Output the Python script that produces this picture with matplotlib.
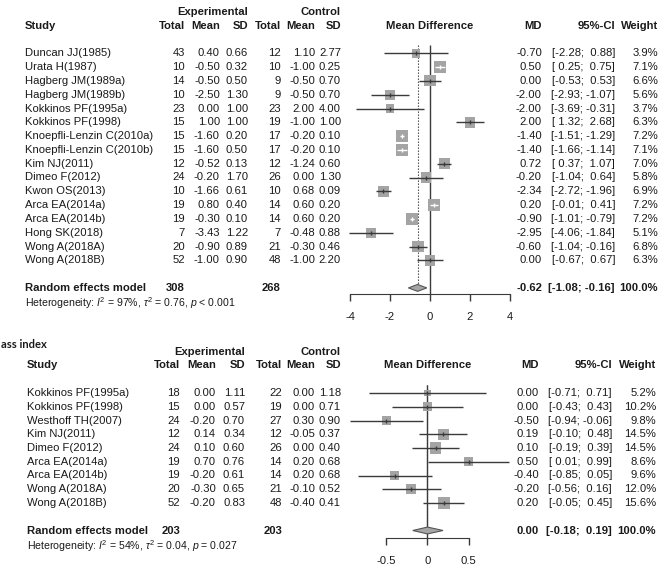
import numpy as np
import matplotlib
matplotlib.use("Agg")
import matplotlib.pyplot as plt
from matplotlib import transforms

plt.rcParams['font.family'] = ['Liberation Sans', 'DejaVu Sans']
plt.rcParams['axes.unicode_minus'] = False
plt.rcParams['mathtext.fontset'] = 'custom'
plt.rcParams['mathtext.rm'] = 'Liberation Sans'
plt.rcParams['mathtext.it'] = 'Liberation Sans:italic'
plt.rcParams['mathtext.bf'] = 'Liberation Sans:bold'

W, H = 666, 568
TXT, LINE, SQ = "#1a1a1a", "#3a3a3a", "#a4a4a4"
FS = 8.1

# ---- panel a ----
studies_a = ["Duncan JJ(1985)", "Urata H(1987)", "Hagberg JM(1989a)", "Hagberg JM(1989b)",
             "Kokkinos PF(1995a)", "Kokkinos PF(1998)", "Knoepfli-Lenzin C(2010a)",
             "Knoepfli-Lenzin C(2010b)", "Kim NJ(2011)", "Dimeo F(2012)", "Kwon OS(2013)",
             "Arca EA(2014a)", "Arca EA(2014b)", "Hong SK(2018)", "Wong A(2018A)", "Wong A(2018B)"]
exp_n_a = [43, 10, 14, 10, 23, 15, 15, 15, 12, 24, 10, 19, 19, 7, 20, 52]
exp_mean_a = [0.40, -0.50, -0.50, -2.50, 0.00, 1.00, -1.60, -1.60, -0.52, -0.20, -1.66, 0.80, -0.30, -3.43, -0.90, -1.00]
exp_sd_a = [0.66, 0.32, 0.50, 1.30, 1.00, 1.00, 0.20, 0.50, 0.13, 1.70, 0.61, 0.40, 0.10, 1.22, 0.89, 0.90]
ctl_n_a = [12, 10, 9, 9, 23, 19, 17, 17, 12, 26, 10, 14, 14, 7, 21, 48]
ctl_mean_a = [1.10, -1.00, -0.50, -0.50, 2.00, -1.00, -0.20, -0.20, -1.24, 0.00, 0.68, 0.60, 0.60, -0.48, -0.30, -1.00]
ctl_sd_a = [2.77, 0.25, 0.70, 0.70, 4.00, 1.00, 0.10, 0.10, 0.60, 1.30, 0.09, 0.20, 0.20, 0.88, 0.46, 2.20]
md_a = [-0.70, 0.50, 0.00, -2.00, -2.00, 2.00, -1.40, -1.40, 0.72, -0.20, -2.34, 0.20, -0.90, -2.95, -0.60, 0.00]
lo_a = [-2.28, 0.25, -0.53, -2.93, -3.69, 1.32, -1.51, -1.66, 0.37, -1.04, -2.72, -0.01, -1.01, -4.06, -1.04, -0.67]
hi_a = [0.88, 0.75, 0.53, -1.07, -0.31, 2.68, -1.29, -1.14, 1.07, 0.64, -1.96, 0.41, -0.79, -1.84, -0.16, 0.67]
weight_a = [3.9, 7.1, 6.6, 5.6, 3.7, 6.3, 7.2, 7.1, 7.0, 5.8, 6.9, 7.2, 7.2, 5.1, 6.8, 6.3]
pooled_a = [-0.62, -1.08, -0.16, 100.0]
totals_a = [308, 268]
het_a = r"Heterogeneity: $I^2$ = 97%, $\tau^2$ = 0.76, $p$ < 0.001"
ticks_a = [-4, -2, 0, 2, 4]
ticklabels_a = ["-4", "-2", "0", "2", "4"]

# ---- panel b ----
studies_b = ["Kokkinos PF(1995a)", "Kokkinos PF(1998)", "Westhoff TH(2007)", "Kim NJ(2011)",
             "Dimeo F(2012)", "Arca EA(2014a)", "Arca EA(2014b)", "Wong A(2018A)", "Wong A(2018B)"]
exp_n_b = [18, 15, 24, 12, 24, 19, 19, 20, 52]
exp_mean_b = [0.00, 0.00, -0.20, 0.14, 0.10, 0.70, -0.20, -0.30, -0.20]
exp_sd_b = [1.11, 0.57, 0.70, 0.34, 0.60, 0.76, 0.61, 0.65, 0.83]
ctl_n_b = [22, 19, 27, 12, 26, 14, 14, 21, 48]
ctl_mean_b = [0.00, 0.00, 0.30, -0.05, 0.00, 0.20, 0.20, -0.10, -0.40]
ctl_sd_b = [1.18, 0.71, 0.90, 0.37, 0.40, 0.68, 0.68, 0.52, 0.41]
md_b = [0.00, 0.00, -0.50, 0.19, 0.10, 0.50, -0.40, -0.20, 0.20]
lo_b = [-0.71, -0.43, -0.94, -0.10, -0.19, 0.01, -0.85, -0.56, -0.05]
hi_b = [0.71, 0.43, -0.06, 0.48, 0.39, 0.99, 0.05, 0.16, 0.45]
weight_b = [5.2, 10.2, 9.8, 14.5, 14.5, 8.6, 9.6, 12.0, 15.6]
pooled_b = [0.00, -0.18, 0.19, 100.0]
totals_b = [203, 203]
het_b = r"Heterogeneity: $I^2$ = 54%, $\tau^2$ = 0.04, $p$ = 0.027"
ticks_b = [-0.5, 0, 0.5]
ticklabels_b = ["-0.5", "0", "0.5"]


def ci_text(lo, hi, wl, wh):
    # R-style padding: "[-2.28;  0.88]"
    a, b = f"{lo:.2f}", f"{hi:.2f}"
    return "[" + " " * (wl - len(a)) + a + "; " + " " * (wh - len(b)) + b + "]"


def panel(fig, box, row0, rowh, xlim, axis_row, zero_top, cols, studies, en, em, es, cn, cm, cs,
          md, lo, hi, wt, pooled, totals, het, ticks, ticklabels):
    x0, y0, x1, y1 = box
    ax = fig.add_axes([x0 / W, 1 - y1 / H, (x1 - x0) / W, (y1 - y0) / H])
    ax.set_xlim(xlim)
    ax.set_ylim(1 + (y1 - row0) / rowh, 1 + (y0 - row0) / rowh)
    ax.patch.set_visible(False)
    tr = transforms.blended_transform_factory(fig.transFigure, ax.transData)

    def put(xpx, row, s, ha="right", bold=False, size=FS):
        ax.text(xpx / W, row, s, transform=tr, ha=ha, va="center", fontsize=size,
                fontweight="bold" if bold else "normal", color=TXT)

    n = len(studies)
    rows = np.arange(1, n + 1)
    prow = n + 2
    md, lo, hi, wt = map(np.asarray, (md, lo, hi, wt))
    wl = max(len(f"{v:.2f}") for v in list(lo) + [pooled[1]])
    wh = max(len(f"{v:.2f}") for v in list(hi) + [pooled[2]])

    # headers
    put(cols["s1"], -2, "Experimental", bold=True)
    put(cols["s2"], -2, "Control", bold=True)
    put(cols["study"], -1, "Study", ha="left", bold=True)
    for key, lab in [("t1", "Total"), ("m1", "Mean"), ("s1", "SD"), ("t2", "Total"),
                     ("m2", "Mean"), ("s2", "SD"), ("md", "MD"), ("ci", "95%-CI"),
                     ("wt", "Weight")]:
        put(cols[key], -1, lab, bold=True)
    ax.text(0, -1, "Mean Difference", ha="center", va="center", fontsize=FS,
            fontweight="bold", color=TXT)

    # study rows
    for i, r in enumerate(rows):
        put(cols["study"], r, studies[i], ha="left")
        put(cols["t1"], r, f"{en[i]}")
        put(cols["m1"], r, f"{em[i]:.2f}")
        put(cols["s1"], r, f"{es[i]:.2f}")
        put(cols["t2"], r, f"{cn[i]}")
        put(cols["m2"], r, f"{cm[i]:.2f}")
        put(cols["s2"], r, f"{cs[i]:.2f}")
        put(cols["md"], r, f"{md[i]:.2f}")
        put(cols["ci"], r, ci_text(lo[i], hi[i], wl, wh))
        put(cols["wt"], r, f"{wt[i]:.1f}%")

    # pooled row
    put(cols["study"], prow, "Random effects model", ha="left", bold=True)
    put(cols["t1"], prow, f"{totals[0]}", bold=True)
    put(cols["t2"], prow, f"{totals[1]}", bold=True)
    put(cols["md"], prow, f"{pooled[0]:.2f}", bold=True)
    put(cols["ci"], prow, ci_text(pooled[1], pooled[2], wl, wh), bold=True)
    put(cols["wt"], prow, f"{pooled[3]:.1f}%", bold=True)
    put(cols["study"], prow + 1.1, het, ha="left", size=7.6)

    # reference lines
    ax.vlines(0, zero_top, axis_row, color=LINE, lw=1, zorder=1)
    ax.vlines(pooled[0], zero_top, prow - 0.25, color=LINE, lw=0.8,
              linestyles=(0, (1.2, 1.5)), zorder=1)

    # squares + CIs
    ppu = (x1 - x0) / (xlim[1] - xlim[0])
    side = 11.5 * np.sqrt(wt / wt.max())
    ax.scatter(md, rows, s=(side * 0.72) ** 2, marker="s", c=SQ, linewidths=0, zorder=2)
    for i, r in enumerate(rows):
        c = "white" if (hi[i] - lo[i]) * ppu < side[i] else LINE
        ax.hlines(r, lo[i], hi[i], color=c, lw=1, zorder=3)
        ax.plot(md[i], r, marker="|", ms=3, mew=1, color=c, zorder=4)

    # diamond
    ax.fill([pooled[1], pooled[0], pooled[2], pooled[0]],
            [prow, prow - 0.25, prow, prow + 0.25], fc="#a5a5a5", ec="#555555", lw=0.8, zorder=3)

    for s in ("top", "right", "left"):
        ax.spines[s].set_visible(False)
    ax.spines["bottom"].set_position(("data", axis_row))
    ax.spines["bottom"].set_bounds(ticks[0], ticks[-1])
    ax.spines["bottom"].set_color(LINE)
    ax.set_xticks(ticks)
    ax.set_xticklabels(ticklabels)
    ax.set_yticks([])
    ax.tick_params(axis="x", direction="out", length=5, width=1, color=LINE,
                   labelsize=FS, pad=8, labelcolor=TXT)
    return ax


fig = plt.figure(figsize=(W / 100, H / 100), dpi=100)

cols_a = dict(study=25, t1=185, m1=220, s1=248, t2=281, m2=315, s2=341, md=542,
              ci=615, wt=658)
panel(fig, (340, 0, 520, 325), 53.3, 13.8, (-4.5, 4.5), 18.41, 0.4, cols_a,
      studies_a, exp_n_a, exp_mean_a, exp_sd_a, ctl_n_a, ctl_mean_a, ctl_sd_a,
      md_a, lo_a, hi_a, weight_a, pooled_a, totals_a, het_a, ticks_a, ticklabels_a)

cols_b = dict(study=27, t1=180, m1=216, s1=245, t2=282, m2=315, s2=341, md=539,
              ci=612, wt=656)
panel(fig, (340, 325, 520, 568), 393, 13.75, (-1.067, 1.128), 11.52, 0.42, cols_b,
      studies_b, exp_n_b, exp_mean_b, exp_sd_b, ctl_n_b, ctl_mean_b, ctl_sd_b,
      md_b, lo_b, hi_b, weight_b, pooled_b, totals_b, het_b, ticks_b, ticklabels_b)

fig.text(1 / W, 1 - 345 / H, "ass index", ha="left", va="center", fontsize=8,
         fontweight="bold", family=["Lato", "DejaVu Sans"], color=TXT)

fig.savefig("out.png", dpi=100)
